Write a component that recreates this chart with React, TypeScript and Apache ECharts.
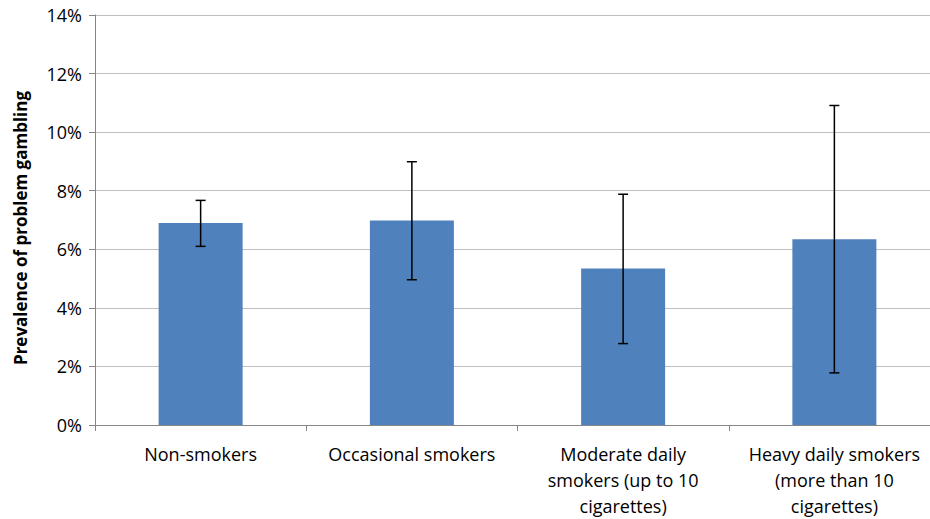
import React, { useEffect, useRef } from "react";
import * as echarts from "echarts";

const categories = [
  "Non-smokers",
  "Occasional smokers",
  "Moderate daily\nsmokers (up to 10\ncigarettes)",
  "Heavy daily smokers\n(more than 10\ncigarettes)",
];
const prevalence = [6.9, 6.98, 5.34, 6.34];
const errorLow = [6.1, 4.96, 2.78, 1.78];
const errorHigh = [7.67, 8.99, 7.88, 10.91];
const yTicks = [0, 2, 4, 6, 8, 10, 12, 14];
const yTitle = "Prevalence of problem gambling";

export default function App() {
  const ref = useRef<HTMLDivElement>(null);
  useEffect(() => {
    document.body.style.margin = "0";
    const chart = echarts.init(ref.current!, null, { renderer: "svg" });
    const font = "'Open Sans', 'Noto Sans', sans-serif";
    const errData = categories.map((_, i) => [i, errorLow[i], errorHigh[i]]);
    chart.setOption({
      animation: false,
      grid: { left: 95, top: 15, bottom: 93, right: 0, containLabel: false },
      graphic: [
        {
          type: "text",
          x: 20,
          y: 228,
          rotation: Math.PI / 2,
          style: {
            text: yTitle,
            fill: "#000",
            font: `bold 17px ${font}`,
            align: "center",
            verticalAlign: "middle",
          },
        },
      ],
      xAxis: {
        type: "category",
        data: categories,
        axisLine: { lineStyle: { color: "#868686", width: 1 } },
        axisTick: { show: true, length: 6, lineStyle: { color: "#868686" } },
        axisLabel: {
          color: "#000",
          fontFamily: font,
          fontSize: 18,
          lineHeight: 26,
          margin: 16,
          interval: 0,
        },
      },
      yAxis: {
        type: "value",
        min: yTicks[0],
        max: yTicks[yTicks.length - 1],
        interval: 2,
        axisLine: { show: true, lineStyle: { color: "#868686", width: 1 } },
        axisTick: { show: true, length: 6, lineStyle: { color: "#868686" } },
        axisLabel: {
          color: "#000",
          fontFamily: font,
          fontSize: 18,
          margin: 13,
          formatter: (v: number) => v + "%",
        },
        splitLine: { lineStyle: { color: "#c0c0c0", width: 1 } },
      },
      series: [
        {
          type: "bar",
          data: prevalence,
          barWidth: 84,
          itemStyle: { color: "#4f81bd" },
        },
        {
          type: "custom",
          data: errData,
          z: 10,
          renderItem: (params: any, api: any) => {
            const x = api.value(0);
            const lo = api.coord([x, api.value(1)]);
            const hi = api.coord([x, api.value(2)]);
            const half = 5;
            const style = { stroke: "#000", lineWidth: 1.5 };
            return {
              type: "group",
              children: [
                { type: "line", shape: { x1: hi[0], y1: hi[1], x2: lo[0], y2: lo[1] }, style },
                { type: "line", shape: { x1: hi[0] - half, y1: hi[1], x2: hi[0] + half, y2: hi[1] }, style },
                { type: "line", shape: { x1: lo[0] - half, y1: lo[1], x2: lo[0] + half, y2: lo[1] }, style },
              ],
            };
          },
        },
      ],
    });
    return () => chart.dispose();
  }, []);
  return (
    <div style={{ width: 930, height: 519, overflow: "hidden", position: "relative" }}>
      <div ref={ref} style={{ width: 940, height: 519 }} />
    </div>
  );
}
